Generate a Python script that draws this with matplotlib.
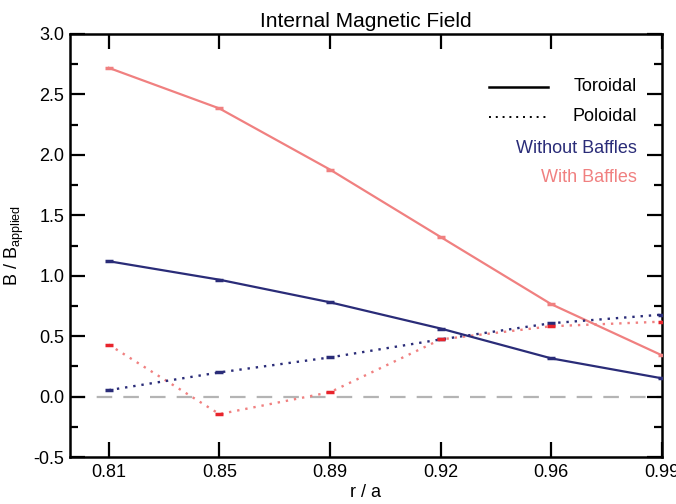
import matplotlib
matplotlib.use('Agg')
import matplotlib.pyplot as plt
from matplotlib.ticker import MultipleLocator, FormatStrFormatter

plt.rcParams['font.family'] = ['Liberation Sans', 'DejaVu Sans']
plt.rcParams['mathtext.fontset'] = 'custom'
plt.rcParams['mathtext.rm'] = 'Liberation Sans'

# --- data ---
r_labels = ['0.81', '0.85', '0.89', '0.92', '0.96', '0.99']
tor_without = [1.12, 0.967, 0.78, 0.563, 0.316, 0.151]
pol_without = [0.053, 0.20, 0.324, 0.473, 0.607, 0.678]
tor_with = [2.72, 2.384, 1.878, 1.32, 0.764, 0.341]
pol_with = [0.43, -0.145, 0.036, 0.473, 0.582, 0.62]

NAVY = '#2a2c78'
SALMON = '#f08080'
RED = '#e8242c'

fig = plt.figure(figsize=(6.76, 5.04), dpi=100)
ax = fig.add_axes([70 / 676, 1 - 457 / 504, 592 / 676, 423 / 504])

x = list(range(len(r_labels)))

ax.axhline(0.0, color='#b4b4b4', lw=1.6, dashes=(7, 5), zorder=1)

ax.plot(x, tor_with, color=SALMON, lw=1.6, marker='_', ms=6, mew=2.5, zorder=3)
ax.plot(x, pol_with, color=SALMON, lw=1.7, ls=(0, (1, 2.5)), zorder=3)
ax.plot(x, pol_with, ls='none', marker='_', ms=6, mew=2.5, color=RED, zorder=4)
ax.plot(x, tor_without, color=NAVY, lw=1.6, marker='_', ms=6, mew=2.5, zorder=3)
ax.plot(x, pol_without, color=NAVY, lw=1.7, ls=(0, (1, 2.5)), marker='_', ms=6, mew=2.5, zorder=3)

ax.set_xlim(-0.35, 5.0)
ax.set_ylim(-0.5, 3.0)
ax.set_xticks(x)
ax.set_xticklabels(r_labels)
ax.yaxis.set_major_locator(MultipleLocator(0.5))
ax.yaxis.set_minor_locator(MultipleLocator(0.25))
ax.yaxis.set_major_formatter(FormatStrFormatter('%.1f'))

for s in ax.spines.values():
    s.set_linewidth(1.8)
ax.tick_params(which='both', direction='in', top=True, right=True, width=1.6,
               labelsize=13)
ax.tick_params(axis='y', pad=4)
ax.tick_params(axis='x', pad=5)
ax.tick_params(which='major', length=11)
ax.tick_params(which='minor', length=6)

ax.set_title('Internal Magnetic Field', fontsize=15, pad=5)
ax.set_xlabel('r / a', fontsize=13, labelpad=2)
ax.set_ylabel(r'B / B$_{\rm applied}$', fontsize=13)
ax.yaxis.set_label_coords(-0.074, 0.5)

# legend block
ax.plot([0.708, 0.807], [0.875, 0.875], color='black', lw=1.8, transform=ax.transAxes)
ax.plot([0.708, 0.807], [0.804, 0.804], color='black', lw=1.4, ls=(0, (1, 2.5)),
        transform=ax.transAxes)
leg_items = [('Toroidal', 'black', 0.875), ('Poloidal', 'black', 0.804),
             ('Without Baffles', NAVY, 0.730), ('With Baffles', SALMON, 0.660)]
for txt, col, yy in leg_items:
    ax.text(0.958, yy, txt, color=col, fontsize=13, ha='right', va='center',
            transform=ax.transAxes)

fig.savefig('out.png', dpi=100)
